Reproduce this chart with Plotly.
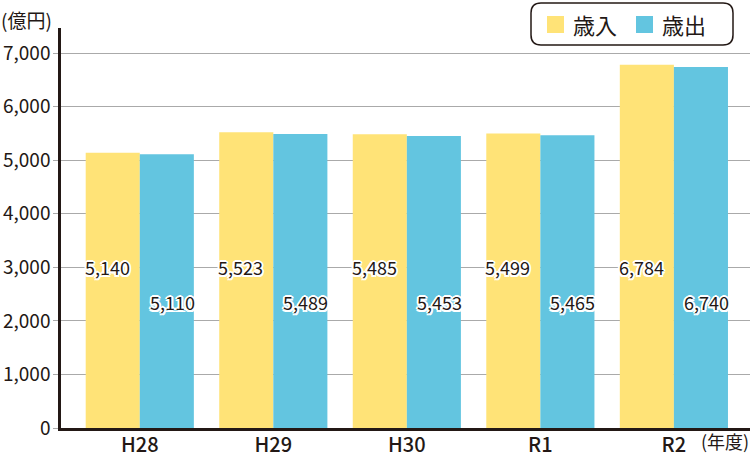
import plotly.graph_objects as go

categories = ["H28", "H29", "H30", "R1", "R2"]
revenue = [5140, 5523, 5485, 5499, 6784]      # 歳入
expenditure = [5110, 5489, 5453, 5465, 6740]  # 歳出
series_names = ["歳入", "歳出"]
y_ticks = [0, 1000, 2000, 3000, 4000, 5000, 6000, 7000]
y_unit = "(億円)"
x_unit = "(年度)"

YELLOW = "#FFE377"
BLUE = "#63C5E0"
FONT = "Noto Sans CJK JP"
TXT = "#231815"

W, H = 750, 457
ML, MR, MT, MB = 61, 0, 28, 29
PW, PH = W - ML - MR, H - MT - MB

xs = list(range(len(categories)))
fig = go.Figure()
fig.add_trace(go.Bar(x=xs, y=revenue, name=series_names[0], marker_color=YELLOW,
                     marker_line_width=0, hoverinfo="skip"))
fig.add_trace(go.Bar(x=xs, y=expenditure, name=series_names[1], marker_color=BLUE,
                     marker_line_width=0, hoverinfo="skip"))

bargap = 0.19
bw = (1 - bargap) / 2
outline = ("white 2px 0 0, white -2px 0 0, white 0 2px 0, white 0 -2px 0, "
           "white 1.5px 1.5px 0, white -1.5px -1.5px 0, white 1.5px -1.5px 0, white -1.5px 1.5px 0")
lab_font = dict(family=FONT, size=18, color=TXT, shadow=outline)
for i in xs:
    fig.add_annotation(x=i - bw, y=3000, xref="x", yref="y", text=f"{revenue[i]:,}",
                       showarrow=False, xanchor="left", yanchor="middle", xshift=-3,
                       font=lab_font)
    fig.add_annotation(x=i + bw, y=2350, xref="x", yref="y", text=f"{expenditure[i]:,}",
                       showarrow=False, xanchor="right", yanchor="middle", xshift=3,
                       font=lab_font)

# unit labels
fig.add_annotation(x=-ML / PW, y=1 + 9 / PH, xref="paper", yref="paper", text=y_unit,
                   showarrow=False, xanchor="left", yanchor="middle", xshift=-1,
                   font=dict(family=FONT, size=19, color=TXT))
fig.add_annotation(x=1, y=-13 / PH, xref="paper", yref="paper", text=x_unit,
                   showarrow=False, xanchor="right", yanchor="middle", xshift=1,
                   font=dict(family=FONT, size=18, color=TXT))

# legend (manual)
def px2paper(px, py):
    return (px - ML) / PW, (H - MB - py) / PH

x0, y0 = px2paper(531, 3)
x1, y1 = px2paper(733, 45)
rx, ry = 10 / PW, 10 / PH
path = (f"M{x0+rx},{y0} L{x1-rx},{y0} Q{x1},{y0} {x1},{y0-ry} L{x1},{y1+ry} "
        f"Q{x1},{y1} {x1-rx},{y1} L{x0+rx},{y1} Q{x0},{y1} {x0},{y1+ry} "
        f"L{x0},{y0-ry} Q{x0},{y0} {x0+rx},{y0} Z")
fig.add_shape(type="path", path=path, xref="paper", yref="paper",
              line=dict(color=TXT, width=1.5), fillcolor="white", layer="above")
for (sx, tx, col, name) in [(547, 571, YELLOW, series_names[0]), (636, 660, BLUE, series_names[1])]:
    a, b = px2paper(sx, 16)
    c, d = px2paper(sx + 17, 33)
    fig.add_shape(type="rect", x0=a, y0=b, x1=c, y1=d, xref="paper", yref="paper",
                  fillcolor=col, line_width=0, layer="above")
    tx_p, ty_p = px2paper(tx, 24)
    fig.add_annotation(x=tx_p, y=ty_p, xref="paper", yref="paper", text=name,
                       showarrow=False, xanchor="left", yanchor="middle",
                       font=dict(family=FONT, size=22, color=TXT))

fig.update_layout(
    width=W, height=H, margin=dict(l=ML, r=MR, t=MT, b=MB, autoexpand=False),
    paper_bgcolor="white", plot_bgcolor="white",
    barmode="group", bargap=bargap, bargroupgap=0, showlegend=False,
    xaxis=dict(range=[-0.59, 4.57], tickmode="array", tickvals=xs, ticktext=categories,
               showgrid=False, showline=True, linecolor=TXT, linewidth=2.5,
               ticks="", ticklabelstandoff=-3,
               tickfont=dict(family=FONT, size=20, color=TXT, weight=500),
               zeroline=False, automargin=False),
    yaxis=dict(range=[0, 7470], tickmode="array", tickvals=y_ticks,
               ticktext=[f"{v:,}" for v in y_ticks], showgrid=True, gridcolor="#AAAAAA",
               gridwidth=1, showline=True, linecolor=TXT, linewidth=2.5,
               ticks="outside", ticklen=5, tickcolor="#AAAAAA", zeroline=False,
               ticklabelstandoff=-1,
               tickfont=dict(family=FONT, size=19, color=TXT), automargin=False),
)
fig.write_html("out.html", config={"displayModeBar": False},
               post_script="document.body.style.margin='0';")
